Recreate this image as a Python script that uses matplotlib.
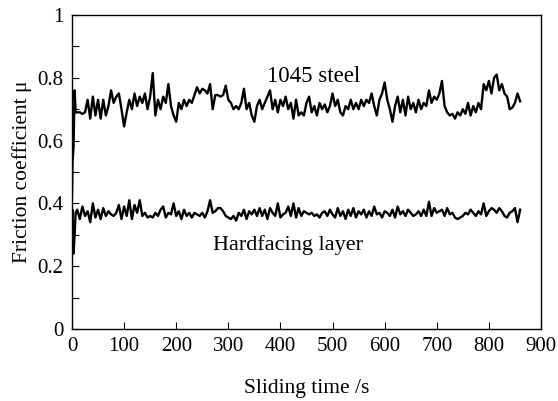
import numpy as np
import matplotlib.pyplot as plt
from matplotlib.ticker import MultipleLocator

plt.rcParams['font.family'] = ['Liberation Serif', 'DejaVu Serif']

# sliding time (s) and friction coefficient
start_t = [0, 1, 3, 5, 7]
run_t = list(range(10, 865, 5))

steel_start = [0.42, 0.53, 0.58, 0.76, 0.69]
steel_run = [
    0.69, 0.69, 0.685, 0.69, 0.73, 0.67, 0.74, 0.68, 0.73, 0.67,
    0.73, 0.68, 0.71, 0.76, 0.72, 0.74, 0.75, 0.70, 0.645, 0.69,
    0.73, 0.70, 0.75, 0.71, 0.74, 0.72, 0.75, 0.70, 0.74, 0.815,
    0.68, 0.73, 0.70, 0.74, 0.72, 0.78, 0.71, 0.68, 0.66, 0.72,
    0.70, 0.73, 0.71, 0.73, 0.72, 0.745, 0.77, 0.75, 0.765, 0.76,
    0.75, 0.78, 0.70, 0.745, 0.745, 0.74, 0.745, 0.775, 0.73, 0.72,
    0.70, 0.71, 0.70, 0.72, 0.765, 0.70, 0.72, 0.68, 0.66, 0.71,
    0.73, 0.70, 0.72, 0.74, 0.76, 0.70, 0.73, 0.69, 0.73, 0.71,
    0.74, 0.70, 0.72, 0.67, 0.73, 0.68, 0.69, 0.68, 0.72, 0.74,
    0.69, 0.71, 0.68, 0.72, 0.70, 0.715, 0.69, 0.71, 0.75, 0.71,
    0.73, 0.69, 0.68, 0.71, 0.70, 0.73, 0.70, 0.72, 0.70, 0.73,
    0.71, 0.73, 0.72, 0.75, 0.71, 0.68, 0.73, 0.75, 0.785, 0.73,
    0.70, 0.66, 0.71, 0.74, 0.69, 0.73, 0.68, 0.74, 0.70, 0.72,
    0.69, 0.73, 0.70, 0.72, 0.71, 0.76, 0.72, 0.74, 0.73, 0.75,
    0.79, 0.71, 0.69, 0.68, 0.685, 0.67, 0.69, 0.68, 0.70, 0.685,
    0.72, 0.68, 0.71, 0.69, 0.72, 0.70, 0.78, 0.76, 0.79, 0.75,
    0.80, 0.81, 0.76, 0.78, 0.75, 0.74, 0.70, 0.705, 0.72, 0.75, 0.725,
]

hard_start = [0.36, 0.38, 0.24, 0.30, 0.37]
hard_run = [
    0.38, 0.35, 0.39, 0.36, 0.375, 0.34, 0.40, 0.355, 0.38, 0.35,
    0.385, 0.36, 0.375, 0.365, 0.36, 0.37, 0.395, 0.35, 0.39, 0.36,
    0.41, 0.35, 0.395, 0.37, 0.41, 0.36, 0.37, 0.355, 0.36, 0.355,
    0.37, 0.36, 0.38, 0.39, 0.355, 0.37, 0.365, 0.40, 0.36, 0.375,
    0.35, 0.38, 0.36, 0.37, 0.355, 0.37, 0.365, 0.36, 0.37, 0.355,
    0.375, 0.41, 0.37, 0.375, 0.385, 0.385, 0.375, 0.36, 0.355, 0.35,
    0.36, 0.345, 0.37, 0.36, 0.38, 0.35, 0.375, 0.365, 0.38, 0.36,
    0.385, 0.36, 0.38, 0.35, 0.385, 0.37, 0.36, 0.40, 0.355, 0.365,
    0.37, 0.39, 0.36, 0.40, 0.355, 0.385, 0.36, 0.375, 0.37, 0.365,
    0.37, 0.36, 0.365, 0.355, 0.37, 0.375, 0.36, 0.38, 0.365, 0.355,
    0.385, 0.36, 0.375, 0.35, 0.38, 0.36, 0.385, 0.355, 0.375, 0.365,
    0.38, 0.355, 0.375, 0.36, 0.39, 0.365, 0.37, 0.355, 0.375, 0.37,
    0.36, 0.38, 0.355, 0.39, 0.365, 0.375, 0.36, 0.38, 0.37, 0.36,
    0.365, 0.375, 0.36, 0.38, 0.36, 0.405, 0.36, 0.385, 0.37, 0.375,
    0.38, 0.36, 0.385, 0.365, 0.37, 0.355, 0.35, 0.355, 0.36, 0.37,
    0.365, 0.38, 0.37, 0.36, 0.375, 0.365, 0.40, 0.36, 0.375, 0.385,
    0.38, 0.37, 0.385, 0.375, 0.36, 0.355, 0.37, 0.375, 0.385, 0.34, 0.38,
]

steel_t = start_t + run_t
steel_mu = steel_start + steel_run
hard_t = start_t + run_t
hard_mu = hard_start + hard_run

fig = plt.figure(figsize=(5.58, 4.01), dpi=100)
ax = fig.add_axes([0.129, 0.1796, 0.8405, 0.783])

ax.plot(steel_t, steel_mu, color='black', linewidth=1.7)
ax.plot(hard_t, hard_mu, color='black', linewidth=1.7)

ax.text(374, 0.805, '1045 steel', fontsize=16.5, va='center')
ax.text(271, 0.267, 'Hardfacing layer', fontsize=16, va='center')

ax.set_xlim(0, 900)
ax.set_ylim(0, 1)
ax.xaxis.set_major_locator(MultipleLocator(100))
ax.yaxis.set_major_locator(MultipleLocator(0.2))
ax.yaxis.set_minor_locator(MultipleLocator(0.1))
ax.yaxis.set_major_formatter(plt.FuncFormatter(lambda v, p: '%g' % round(v, 1)))
ax.tick_params(direction='in', length=5, width=0.8, labelsize=15)
ax.tick_params(axis='x', pad=6)
ax.tick_params(axis='y', pad=6)
ax.tick_params(axis='y', which='minor', direction='in', length=5, width=0.8)

ax.set_xlabel('Sliding time /s', fontsize=15.5)
ax.set_ylabel('Friction coefficient μ', fontsize=15.5)
ax.xaxis.set_label_coords(0.5, -0.16)
ax.yaxis.set_label_coords(-0.085, 0.5)

for s in ax.spines.values():
    s.set_linewidth(1.0)

fig.savefig('out.png', dpi=100)
